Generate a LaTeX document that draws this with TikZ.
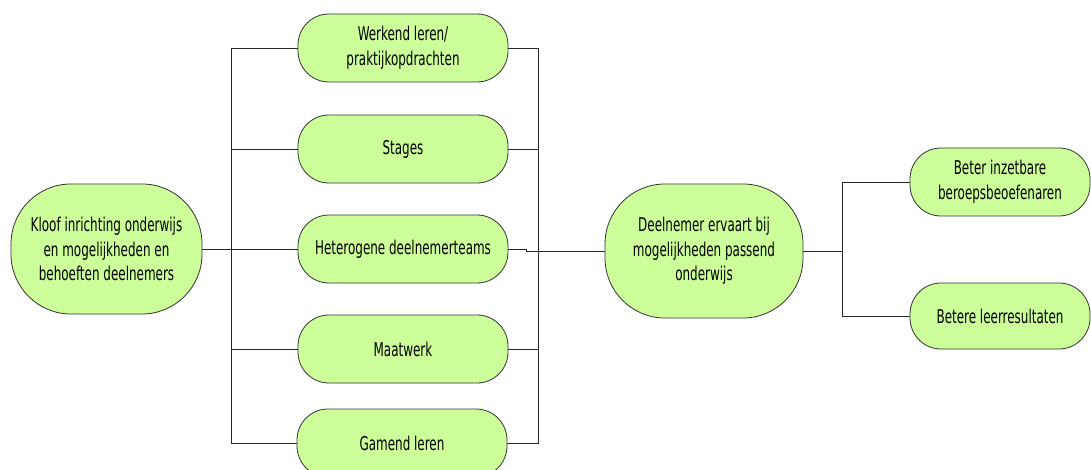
\documentclass[tikz,border=0pt]{standalone}
\usepackage{fontspec}
\setmainfont{DejaVu Sans Condensed}[FakeStretch=0.7]
\begin{document}
\begin{tikzpicture}[x=1pt,y=-1pt,
  box/.style={draw=black!80, fill=boxgreen, line width=0.8pt, align=center,
    inner sep=0pt, font=\fontsize{19}{24.5}\selectfont, text=black},
  small/.style={box, minimum width=210pt, minimum height=68pt, rounded corners=31pt},
  big/.style={box, rounded corners=60pt},
  link/.style={draw=black!85, line width=0.8pt}]
\definecolor{boxgreen}{HTML}{CCFF99}
\clip (0,0) rectangle (1091,470);
\fill[white] (0,0) rectangle (1091,470);

% source and outcome nodes
\node[big, minimum width=191pt, minimum height=130pt] (kloof) at (106.5,249)
  {Kloof inrichting onderwijs\\en mogelijkheden en\\behoeften deelnemers};
\node[big, minimum width=198pt, minimum height=134pt] (deel) at (704,251)
  {Deelnemer ervaart bij\\mogelijkheden passend\\onderwijs};

% the five measures
\node[small] (werk) at (403,48) {Werkend leren/\\praktijkopdrachten};
\node[small] (stag) at (403,149) {Stages};
\node[small] (het)  at (403,249) {Heterogene deelnemerteams};
\node[small] (maat) at (403,349) {Maatwerk};
\node[small] (gam)  at (402,443) {Gamend leren};

% effects
\node[small, minimum width=180pt] (beter) at (1000,182) {Beter inzetbare\\beroepsbeoefenaren};
\node[small, minimum width=180pt, minimum height=66pt] (betere) at (1000,316) {Betere leerresultaten};

% bus positions
\coordinate (lb) at (231,0);
\coordinate (rb) at (538,0);
\coordinate (ob) at (842,0);

% left bus
\draw[link] (werk.west -| lb) -- (gam.west -| lb);
\draw[link] (werk.west) -- (werk.west -| lb);
\draw[link] (stag.west) -- (stag.west -| lb);
\draw[link] (kloof.east) -- (het.west);
\draw[link] (maat.west) -- (maat.west -| lb);
\draw[link] (gam.west) -- (gam.west -| lb);

% right bus
\draw[link] (werk.east) -- (werk.east -| rb) -- (gam.east -| rb) -- (gam.east);
\draw[link] (stag.east) -- (stag.east -| rb);
\draw[link] (maat.east) -- (maat.east -| rb);
\draw[link] (het.east) -- ++(18,0) -- ++(0,2) -- (deel.west);

% outcome bus
\draw[link] (deel.east) -- (deel.east -| ob);
\draw[link] (beter.west) -- (beter.west -| ob) -- (betere.west -| ob) -- (betere.west);
\end{tikzpicture}
\end{document}
